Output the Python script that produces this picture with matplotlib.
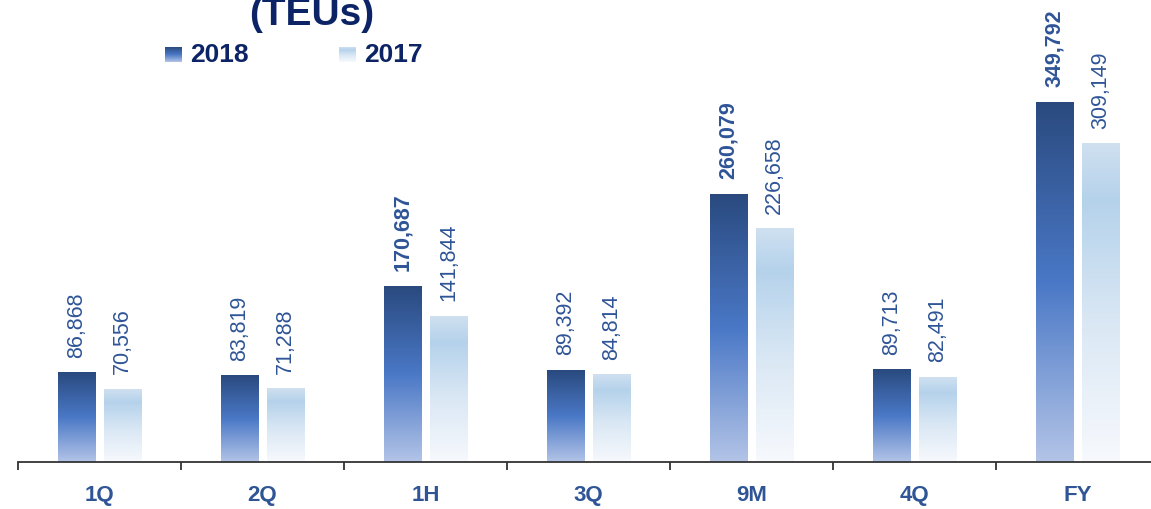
import numpy as np
import matplotlib
matplotlib.use("Agg")
from matplotlib import pyplot as plt
from matplotlib.colors import LinearSegmentedColormap

categories = ["1Q", "2Q", "1H", "3Q", "9M", "4Q", "FY"]
teu_2018 = [86868, 83819, 170687, 89392, 260079, 89713, 349792]
teu_2017 = [70556, 71288, 141844, 84814, 226658, 82491, 309149]
bold_2018 = [False, False, True, False, True, False, True]

FONT = ["Liberation Sans", "DejaVu Sans"]
LABEL_BLUE = "#2f5597"
NAVY = "#0c2466"

# gradients run bottom -> top
cmap_2018 = LinearSegmentedColormap.from_list(
    "g2018", [(0.0, "#b3c4e7"), (0.5, "#4a78c6"), (1.0, "#2a4a7f")])
cmap_2017 = LinearSegmentedColormap.from_list(
    "g2017", [(0.0, "#f7f9fd"), (0.45, "#d9e7f4"), (0.82, "#b5d2eb"), (1.0, "#cfe0f0")])

fig = plt.figure(figsize=(11.51, 5.10), dpi=100)
ax = fig.add_axes([18 / 1151, 47 / 510, 1141 / 1151, 463 / 510])

x = np.arange(len(categories))
w = 0.23
off = 0.142

grad = np.linspace(0, 1, 256).reshape(-1, 1)

bars18 = ax.bar(x - off, teu_2018, w, color="none", linewidth=0)
bars17 = ax.bar(x + off, teu_2017, w, color="none", linewidth=0)

for bars, cmap in ((bars18, cmap_2018), (bars17, cmap_2017)):
    for b in bars:
        x0, h = b.get_x(), b.get_height()
        ax.imshow(grad, extent=[x0, x0 + b.get_width(), 0, h], origin="lower",
                  cmap=cmap, aspect="auto", zorder=2)

for i in range(len(categories)):
    ax.annotate(f"{teu_2018[i]:,}", (x[i] - off, teu_2018[i]), xytext=(0, 11.5),
                textcoords="offset points", rotation=90, ha="center", va="bottom",
                fontsize=15.5, color=LABEL_BLUE, family=FONT,
                fontweight="bold" if bold_2018[i] else "normal")
    ax.annotate(f"{teu_2017[i]:,}", (x[i] + off, teu_2017[i]), xytext=(0, 11.5),
                textcoords="offset points", rotation=90, ha="center", va="bottom",
                fontsize=15.5, color=LABEL_BLUE, family=FONT)

ax.set_xlim(-0.5, 6.5)
ax.set_ylim(0, 450000)

for s in ("top", "right", "left"):
    ax.spines[s].set_visible(False)
ax.spines["bottom"].set_color("#333333")
ax.spines["bottom"].set_linewidth(1.3)
ax.set_yticks([])
ax.set_xticks(x)
ax.set_xticklabels(categories, fontsize=16, fontweight="bold", color=LABEL_BLUE,
                   family=FONT)
ax.set_xticks(np.arange(-0.5, 7.0, 1.0), minor=True)
ax.tick_params(axis="x", which="major", length=0, pad=16)
ax.tick_params(axis="x", which="minor", length=6, width=1.3, color="#333333")

# title, its first line sits above the canvas
fig.text(312 / 1151, 1 - 25 / 510, "(TEUs)", ha="center", va="baseline",
         fontsize=28, fontweight="bold", color=NAVY, family=FONT)

# legend with gradient swatches
for px, label, cmap in ((165, "2018", cmap_2018), (339, "2017", cmap_2017)):
    sw = fig.add_axes([px / 1151, 1 - 63 / 510, 17 / 1151, 15 / 510])
    sw.imshow(grad, origin="lower", cmap=cmap, aspect="auto")
    sw.axis("off")
    fig.text((px + 25) / 1151, 1 - 55.5 / 510, label, ha="left", va="center",
             fontsize=19, fontweight="bold", color=NAVY, family=FONT)

fig.savefig("out.png", dpi=100)
